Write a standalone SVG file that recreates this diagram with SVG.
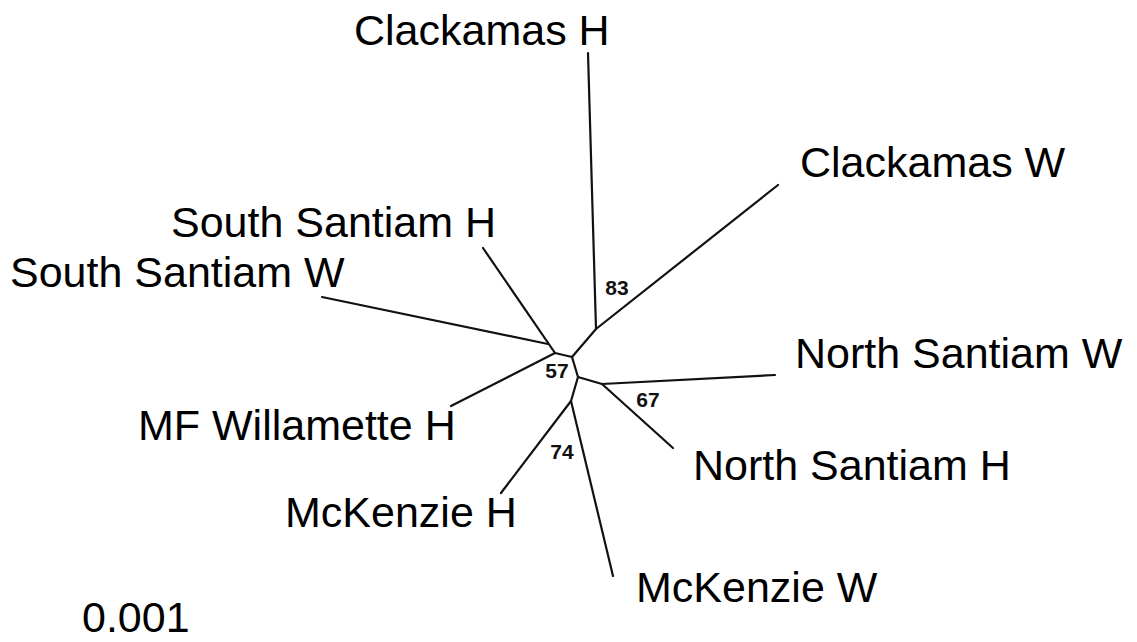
<svg xmlns="http://www.w3.org/2000/svg" width="1137" height="642" viewBox="0 0 1137 642">
  <style>
    .branch { stroke: #111; stroke-width: 2.2; fill: none; stroke-linecap: round; stroke-linejoin: round; }
    .taxon { font-family: "Liberation Sans", Arial, sans-serif; font-size: 43px; fill: #000; }
    .boot { font-family: "Liberation Sans", Arial, sans-serif; font-size: 21px; font-weight: bold; fill: #111; text-anchor: middle; }
  </style>
  <rect width="1137" height="642" fill="#fff"/>

  <!-- tree branches -->
  <g id="connectors">
    <path class="branch" d="M588,53 L596,329 L778,185"/>
    <path class="branch" d="M596,329 L572,357 L555,353"/>
    <path class="branch" d="M483,248 L555,353 L451,406"/>
    <path class="branch" d="M322,297 L548,344"/>
    <path class="branch" d="M572,357 L578,377 L602,384 L775,375"/>
    <path class="branch" d="M602,384 L673,448"/>
    <path class="branch" d="M578,377 L571,401 L501,493"/>
    <path class="branch" d="M571,401 L613,576"/>
  </g>

  <!-- bootstrap support values -->
  <g id="support">
    <text class="boot" x="617" y="295">83</text>
    <text class="boot" x="557" y="378">57</text>
    <text class="boot" x="648" y="407">67</text>
    <text class="boot" x="562" y="459">74</text>
  </g>

  <!-- taxa -->
  <g id="clackamas-h"><text class="taxon" x="354" y="45">Clackamas H</text></g>
  <g id="clackamas-w"><text class="taxon" x="800" y="177">Clackamas W</text></g>
  <g id="south-santiam-h"><text class="taxon" x="171" y="237">South Santiam H</text></g>
  <g id="south-santiam-w"><text class="taxon" x="10" y="287">South Santiam W</text></g>
  <g id="mf-willamette-h"><text class="taxon" x="138" y="440">MF Willamette H</text></g>
  <g id="north-santiam-w"><text class="taxon" x="795" y="368">North Santiam W</text></g>
  <g id="north-santiam-h"><text class="taxon" x="693" y="480">North Santiam H</text></g>
  <g id="mckenzie-h"><text class="taxon" x="285" y="527">McKenzie H</text></g>
  <g id="mckenzie-w"><text class="taxon" x="636" y="602">McKenzie W</text></g>

  <!-- scale -->
  <g id="scale"><text class="taxon" x="82" y="632">0.001</text></g>
</svg>
